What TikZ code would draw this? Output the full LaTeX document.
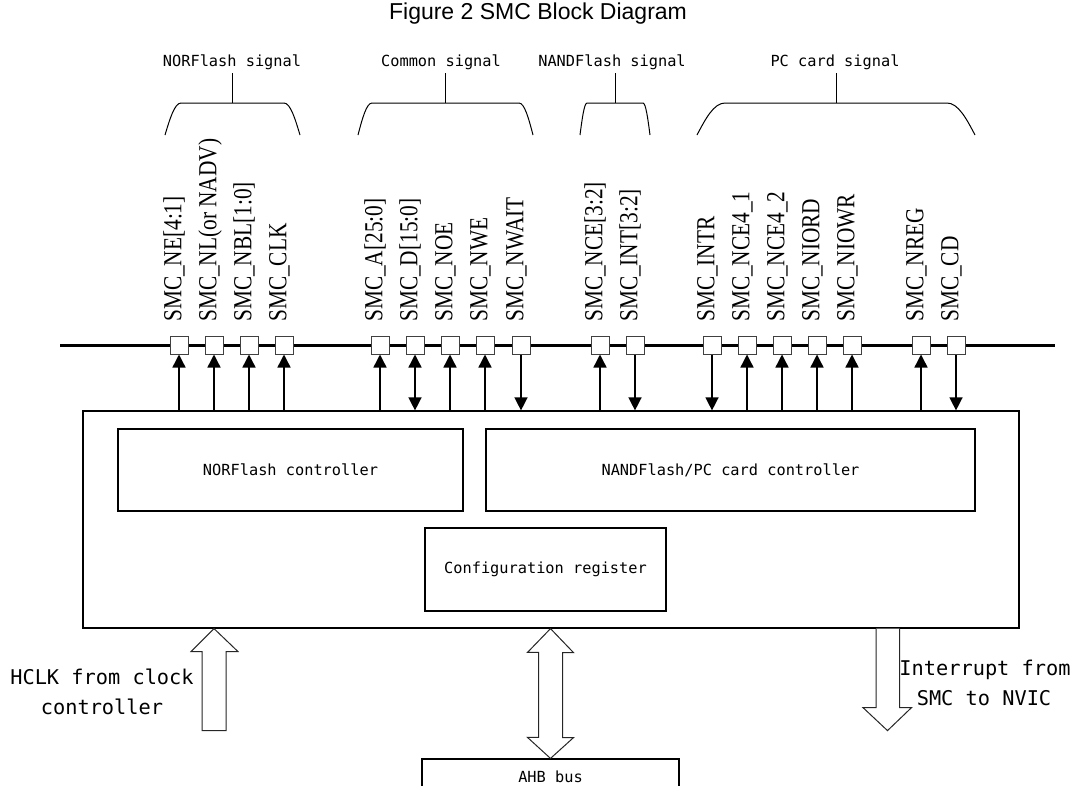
\documentclass[tikz,border=0pt]{standalone}
\usepackage{fontspec}
\setmainfont{Liberation Sans}
\newfontfamily\monofont{DejaVu Sans Mono}
\newfontfamily\sigfont[FakeStretch=0.82]{Liberation Serif}
\usetikzlibrary{arrows.meta,calc}
\newcommand\grpbrace[4]{%
  \draw[brc] (#1,135) .. controls ({#1+0.3*#3},119) and ({#1+0.6*#3},103) .. ({#1+#3},103)
     -- ({#2-#3},103) .. controls ({#2-0.6*#3},103) and ({#2-0.3*#3},119) .. (#2,135);
  \draw[brc] (#4,103) -- (#4,73);}
\begin{document}
\begin{tikzpicture}[x=1pt,y=-1pt,
  pin/.style={draw=black!75, fill=white, line width=1pt, minimum size=18pt, inner sep=0pt},
  sig/.style={rotate=90, anchor=west, inner sep=0pt, text height=0.68em, text depth=0.2em,
              font=\sigfont\fontsize{26}{26}\selectfont},
  grp/.style={font=\monofont\fontsize{15.3}{18}\selectfont, anchor=base, inner sep=0pt},
  blk/.style={draw, line width=1.2pt, inner sep=0pt},
  ctl/.style={font=\monofont\fontsize{15.3}{18}\selectfont},
  big/.style={font=\monofont\fontsize{20.3}{24}\selectfont, anchor=base, inner sep=0pt},
  conn/.style={line width=1.4pt},
  tipend/.style={-{Triangle[length=13pt,width=13pt]}},
  tipboth/.style={{Triangle[length=13pt,width=13pt]}-{Triangle[length=13pt,width=13pt]}},
  brc/.style={line width=1pt},
  barrow/.style={draw=black!85, line width=1pt, fill=white, line join=miter}
]
\useasboundingbox (0,0) rectangle (1076,785);
\clip (0,0) rectangle (1076,785);

% title
\node[font=\fontsize{23}{27}\selectfont] (title) at (538,14) {Figure 2 SMC Block Diagram};

% group labels
\node[grp] (gnor) at (232,66) {NORFlash signal};
\node[grp] (gcom) at (441,66) {Common signal};
\node[grp] (gnand) at (612,66) {NANDFlash signal};
\node[grp] (gpc) at (835,66) {PC card signal};
\grpbrace{165}{300}{16}{232}
\grpbrace{358}{533}{14}{445}
\grpbrace{580}{650}{7}{615}
\grpbrace{697}{975}{28}{836}

% main box and inner blocks
\node[blk, minimum width=936pt, minimum height=217pt] (smc) at (551,519.5) {};
\node[blk, ctl, minimum width=345pt, minimum height=82pt] (nor) at (290.5,470) {NORFlash controller};
\node[blk, ctl, minimum width=489pt, minimum height=82pt] (nand) at (730.5,470) {NANDFlash/PC card controller};
\node[blk, ctl, minimum width=241pt, minimum height=83pt] (cfg) at (545.5,569.5) {Configuration register};
\node[blk, ctl, minimum width=257pt, minimum height=36pt] (ahb) at (550.5,777) {AHB bus};

% bus line
\coordinate (busL) at (60,345);
\coordinate (busR) at (1055,345);
\draw[line width=3pt] (busL) -- (busR);

% pins and signal labels
\foreach \i/\x/\t in {
  1/179/{SMC\_NE[4:1]}, 2/214/{SMC\_NL(or NADV)}, 3/249/{SMC\_NBL[1:0]}, 4/284/{SMC\_CLK},
  5/380/{SMC\_A[25:0]}, 6/415/{SMC\_D[15:0]}, 7/450/{SMC\_NOE}, 8/485/{SMC\_NWE}, 9/521/{SMC\_NWAIT},
  10/600/{SMC\_NCE[3:2]}, 11/635/{SMC\_INT[3:2]},
  12/712/{SMC\_INTR}, 13/747/{SMC\_NCE4\_1}, 14/782/{SMC\_NCE4\_2}, 15/817/{SMC\_NIORD},
  16/852/{SMC\_NIOWR}, 17/921/{SMC\_NREG}, 18/956/{SMC\_CD}} {
  \node[pin] (sq\i) at (\x,345) {};
  \node[sig] (lb\i) at (\x,322) {\t};
}

% signal connectors
\foreach \i in {1,2,3,4,5,7,8,10,13,14,15,16,17}
  \draw[conn, tipend] (smc.north -| sq\i) -- (sq\i.south);
\foreach \i in {9,11,12,18}
  \draw[conn, tipend] (sq\i.south) -- (smc.north -| sq\i);
\draw[conn, tipboth] (smc.north -| sq6) -- (sq6.south);

% HCLK block arrow (up)
\coordinate (hclk) at (smc.south -| 214,0);
\draw[barrow] (hclk) -- ++(24,23) -- ++(-12,0) -- ++(0,79) -- ++(-24,0) -- ++(0,-79) -- ++(-11,0) -- cycle;
\node[big] (hclk1) at (102,684) {HCLK from clock};
\node[big] (hclk2) at (102,714) {controller};

% AHB double block arrow
\coordinate (ahbtop) at (smc.south -| ahb.north);
\draw[barrow] (ahbtop) -- ++(23,24) -- ++(-11,0) -- ++(0,85) -- ++(11,0) -- (ahb.north)
  -- ++(-23,-21) -- ++(11,0) -- ++(0,-85) -- ++(-11,0) -- cycle;

% interrupt block arrow (down)
\coordinate (irq) at (smc.south -| 887.5,0);
\draw[barrow] (irq) ++(-11.5,0) -- ++(0,79) -- ++(-13,0) -- ++(24.5,23) -- ++(24,-23) -- ++(-12,0) -- ++(0,-79);
\node[big] (irq1) at (985,675) {Interrupt from};
\node[big] (irq2) at (984,705) {SMC to NVIC};
\end{tikzpicture}
\end{document}
